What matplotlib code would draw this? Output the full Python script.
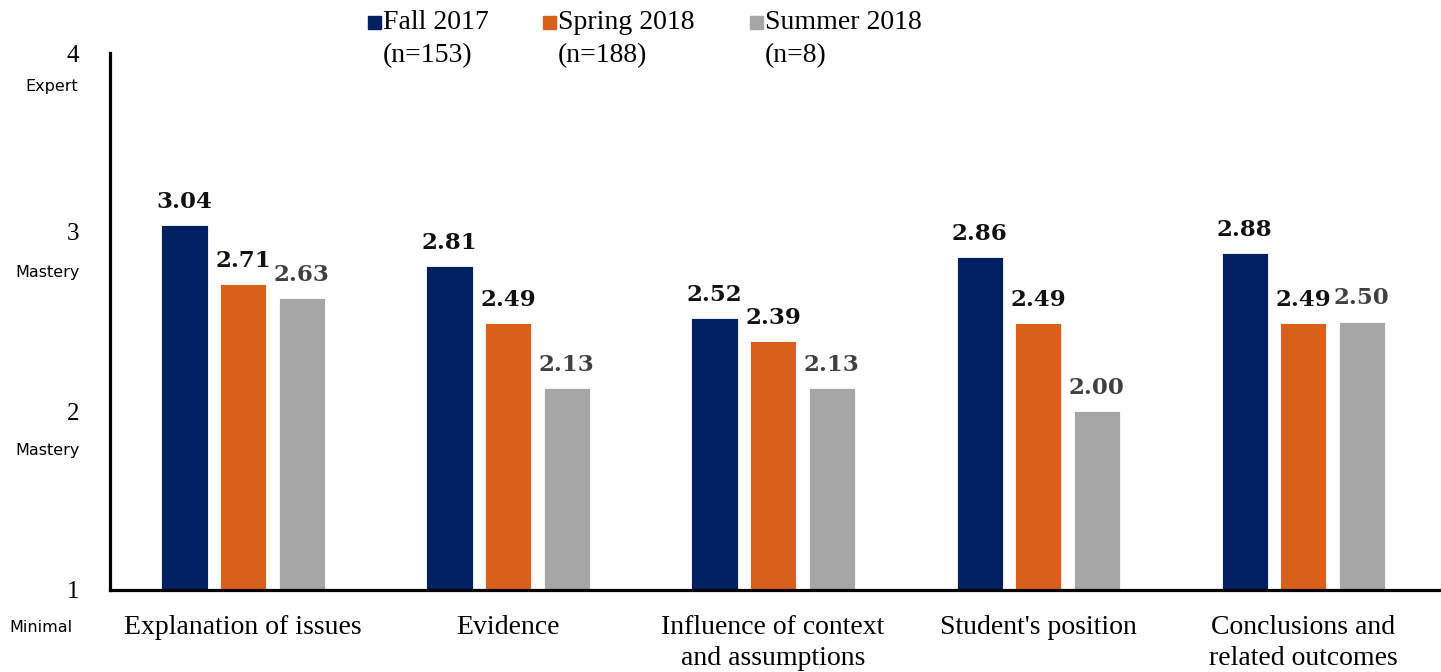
import matplotlib
matplotlib.use("Agg")
import matplotlib.pyplot as plt
import numpy as np
from matplotlib.patches import Rectangle

categories = ["Explanation of issues", "Evidence", "Influence of context\nand assumptions",
              "Student's position", "Conclusions and\nrelated outcomes"]
series_names = ["Fall 2017\n(n=153)", "Spring 2018\n(n=188)", "Summer 2018\n(n=8)"]
fall = [3.04, 2.81, 2.52, 2.86, 2.88]
spring = [2.71, 2.49, 2.39, 2.49, 2.49]
summer = [2.63, 2.13, 2.13, 2.00, 2.50]
yticks = [1, 2, 3, 4]
ylevels = ["Minimal", "Mastery", "Mastery", "Expert"]

colors = ["#002060", "#D9601A", "#A6A6A6"]
label_colors = ["#111111", "#111111", "#404040"]

W, H = 1441, 672
fig = plt.figure(figsize=(W / 100, H / 100), dpi=100)
ax = fig.add_axes([110 / W, (H - 590) / H, 1 - 110 / W, (590 - 53) / H])

x = np.arange(len(categories))
width = 0.174
offsets = [-0.221, 0.0, 0.221]
for vals, off, c, lc in zip([fall, spring, summer], offsets, colors, label_colors):
    ax.bar(x + off, [v - 1 for v in vals], width=width, bottom=1, color=c,
           edgecolor="white", linewidth=0.6)
    for xi, v in zip(x + off, vals):
        ax.annotate(f"{v:.2f}", (xi, v), xytext=(0, 12), textcoords="offset pixels",
                    ha="center", va="bottom", fontsize=16.5, fontweight="bold",
                    family="DejaVu Serif", color=lc)

ax.set_xlim(-0.502, 4.52)
ax.set_ylim(1, 4)
ax.set_yticks(yticks)
ax.set_yticklabels([str(t) for t in yticks], fontsize=18, family="Liberation Serif")
ax.set_xticks(x)
ax.set_xticklabels(categories, fontsize=20, family="Liberation Serif", linespacing=1.3)
ax.tick_params(axis="both", length=0)
ax.tick_params(axis="y", pad=22)
ax.tick_params(axis="x", pad=18)
for s in ["top", "right"]:
    ax.spines[s].set_visible(False)
for s in ["left", "bottom"]:
    ax.spines[s].set_linewidth(2.3)
    ax.spines[s].set_color("black")

centers = {1: 41, 2: 48, 3: 48, 4: 52}
drops = {1: -38, 2: -40, 3: -40, 4: -34}
for t, lab in zip(yticks, ylevels):
    ax.annotate(lab, (centers[t] / W, t), xycoords=(fig.transFigure, ax.transData),
                xytext=(0, drops[t]), textcoords="offset pixels", ha="center", va="center",
                fontsize=11.5, family="DejaVu Sans", annotation_clip=False)

sq_x = [368, 543, 750]
for name, c, sx in zip(series_names, colors, sq_x):
    fig.add_artist(Rectangle((sx / W, (H - 29) / H), 13 / W, 13 / H, color=c,
                             transform=fig.transFigure))
    fig.text((sx + 15) / W, (H - 10) / H, name, ha="left", va="top", fontsize=20,
             family="Liberation Serif", linespacing=1.45)

fig.savefig("out.png", dpi=100)
